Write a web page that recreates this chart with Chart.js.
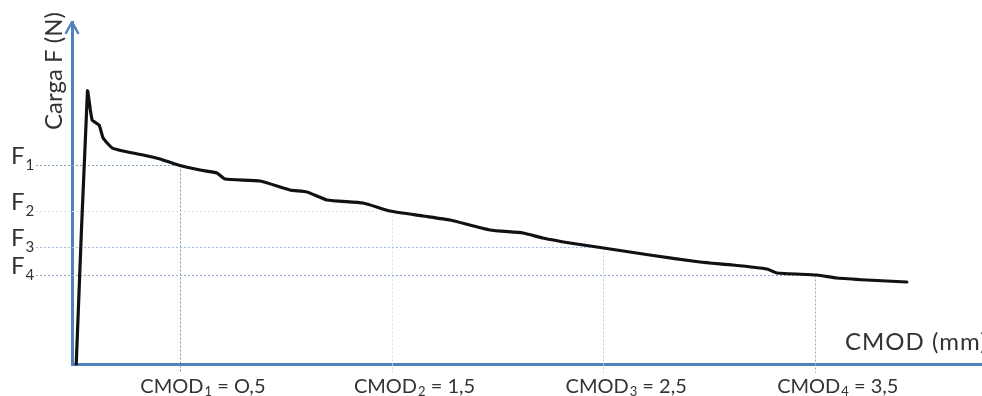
<!DOCTYPE html>
<html>
<head>
<meta charset="utf-8">
<script src="https://cdn.jsdelivr.net/npm/chart.js@4/dist/chart.umd.min.js"></script>
<style>
  html, body { margin: 0; padding: 0; background: #ffffff; }
  #wrap { width: 982px; height: 396px; position: relative; }
</style>
</head>
<body>
<div id="wrap"><canvas id="c"></canvas></div>
<script>
// Load–CMOD curve (CMOD in mm, load in arbitrary units)
const cmodMm = [0.01, 0.063, 0.085, 0.118, 0.137, 0.18, 0.231, 0.326, 0.406, 0.491, 0.595, 0.675, 0.713, 0.879,
  1.02, 1.10, 1.195, 1.365, 1.493, 1.649, 1.776, 1.965, 2.121, 2.215, 2.343, 2.47, 2.72, 2.957, 3.113,
  3.274, 3.321, 3.51, 3.604, 3.746, 3.935];
const loadF = [0, 27.3, 24.4, 23.9, 22.6, 21.6, 21.3, 20.9, 20.5, 19.9, 19.4, 19.1, 18.5, 18.3,
  17.4, 17.2, 16.4, 16.1, 15.3, 14.8, 14.4, 13.4, 13.1, 12.6, 12.1, 11.7, 10.9, 10.2, 9.9,
  9.5, 9.1, 8.9, 8.6, 8.4, 8.2];

// Reference points F_j at CMOD_j
const cmodRef = [0.5, 1.5, 2.5, 3.5];
const cmodRefMain = ['CMOD', 'CMOD', 'CMOD', 'CMOD'];
const cmodRefSub = ['1', '2', '3', '4'];
const cmodRefTail = [' = O,5', ' = 1,5', ' = 2,5', ' = 3,5'];
const forceRef = [19.9, 15.3, 11.7, 8.9];
const forceRefMain = ['F', 'F', 'F', 'F'];
const forceRefSub = ['1', '2', '3', '4'];
const refLineColors = ['#7f9fbf', '#d3e1f0', '#9fbcdb', '#8fabc9'];
const dropLineColors = ['#7a93ad', '#cfdff0', '#bcd2e8', '#8fabc9'];

const FONT = 'Lato, "Open Sans", sans-serif';
const TEXT = '#333333';
const AXIS = '#4f81bd';

// draws "main" + lowered subscript + "tail" starting at x
function drawSubText(ctx, x, baseline, main, sub, tail, size, subSize, drop) {
  ctx.font = size + 'px ' + FONT;
  ctx.fillText(main, x, baseline);
  x += ctx.measureText(main).width + 1;
  ctx.font = subSize + 'px ' + FONT;
  ctx.fillText(sub, x, baseline + drop);
  x += ctx.measureText(sub).width;
  ctx.font = size + 'px ' + FONT;
  if (tail) ctx.fillText(tail, x, baseline);
}
function subTextWidth(ctx, main, sub, tail, size, subSize) {
  ctx.font = size + 'px ' + FONT;
  let w = ctx.measureText(main).width + 1 + ctx.measureText(tail).width;
  ctx.font = subSize + 'px ' + FONT;
  return w + ctx.measureText(sub).width;
}

const guides = {
  id: 'guides',
  beforeDatasetsDraw(chart) {
    const {ctx, scales: {x, y}} = chart;
    ctx.save();
    ctx.lineWidth = 1;
    ctx.setLineDash([2, 2]);
    cmodRef.forEach((cv, i) => {
      const px = Math.round(x.getPixelForValue(cv)) + 0.5;
      const py = Math.round(y.getPixelForValue(forceRef[i])) + 0.5;
      ctx.strokeStyle = refLineColors[i];
      ctx.beginPath();
      ctx.moveTo(36, py);
      ctx.lineTo(px, py);
      ctx.stroke();
      ctx.strokeStyle = dropLineColors[i];
      ctx.beginPath();
      ctx.moveTo(px, py);
      ctx.lineTo(px, y.bottom + 9);
      ctx.stroke();
    });
    ctx.restore();
  },
  afterDraw(chart) {
    const {ctx, chartArea, scales: {x, y}} = chart;
    ctx.save();
    // arrow head on the load axis
    const ax = x.left;
    ctx.strokeStyle = AXIS;
    ctx.lineWidth = 2.5;
    ctx.lineCap = 'round';
    ctx.lineJoin = 'round';
    ctx.beginPath();
    ctx.moveTo(ax - 6, chartArea.top + 11);
    ctx.lineTo(ax, chartArea.top);
    ctx.lineTo(ax + 6, chartArea.top + 11);
    ctx.stroke();

    ctx.fillStyle = TEXT;
    ctx.textAlign = 'left';
    ctx.textBaseline = 'alphabetic';
    // CMOD_j labels, slightly right of their drop lines
    cmodRef.forEach((cv, i) => {
      const px = x.getPixelForValue(cv);
      const w = subTextWidth(ctx, cmodRefMain[i], cmodRefSub[i], cmodRefTail[i], 20, 13);
      drawSubText(ctx, px + 23 - w / 2, y.bottom + 29, cmodRefMain[i], cmodRefSub[i], cmodRefTail[i], 20, 13, 3);
    });
    // F_j labels left of the load axis
    forceRef.forEach((fv, i) => {
      const py = y.getPixelForValue(fv);
      drawSubText(ctx, 11, py - 1, forceRefMain[i], forceRefSub[i], '', 24, 15, 6);
    });

    // axis titles
    ctx.font = '24px ' + FONT;
    ctx.save();
    ctx.translate(54, 71);
    ctx.rotate(-Math.PI / 2);
    ctx.textAlign = 'center';
    ctx.textBaseline = 'middle';
    ctx.fillText('Carga F (N)', 0, 0);
    ctx.restore();
    ctx.font = '24px ' + FONT;
    ctx.textAlign = 'left';
    ctx.textBaseline = 'alphabetic';
    ctx.letterSpacing = '1px';
    ctx.fillText('CMOD (mm)', 845, 350);
    ctx.restore();
  }
};

new Chart(document.getElementById('c'), {
  type: 'scatter',
  data: {
    datasets: [{
      data: cmodMm.map((v, i) => ({x: v, y: loadF[i]})),
      showLine: true,
      borderColor: '#111111',
      borderWidth: 3.2,
      borderCapStyle: 'round',
      borderJoinStyle: 'round',
      pointRadius: 0,
      tension: 0.15,
      fill: false,
      clip: false
    }]
  },
  options: {
    responsive: true,
    maintainAspectRatio: false,
    animation: false,
    layout: { padding: { top: 22, right: 0, left: 0, bottom: 0 } },
    plugins: { legend: { display: false }, tooltip: { enabled: false } },
    scales: {
      x: {
        type: 'linear', min: -0.01, max: 4.29,
        afterBuildTicks: s => { s.ticks = cmodRef.map(v => ({value: v})); },
        afterFit: s => { s.height = 32; s.paddingLeft = 0; s.paddingRight = 0; },
        grid: { display: false, drawTicks: false },
        border: { color: AXIS, width: 3 },
        ticks: { display: false }
      },
      y: {
        type: 'linear', min: 0, max: 34.2,
        afterBuildTicks: s => { s.ticks = forceRef.map(v => ({value: v})); },
        afterFit: s => { s.width = 72; s.paddingTop = 0; s.paddingBottom = 0; },
        grid: { display: false, drawTicks: false },
        border: { color: AXIS, width: 3 },
        ticks: { display: false }
      }
    }
  },
  plugins: [guides]
});
</script>
</body>
</html>
